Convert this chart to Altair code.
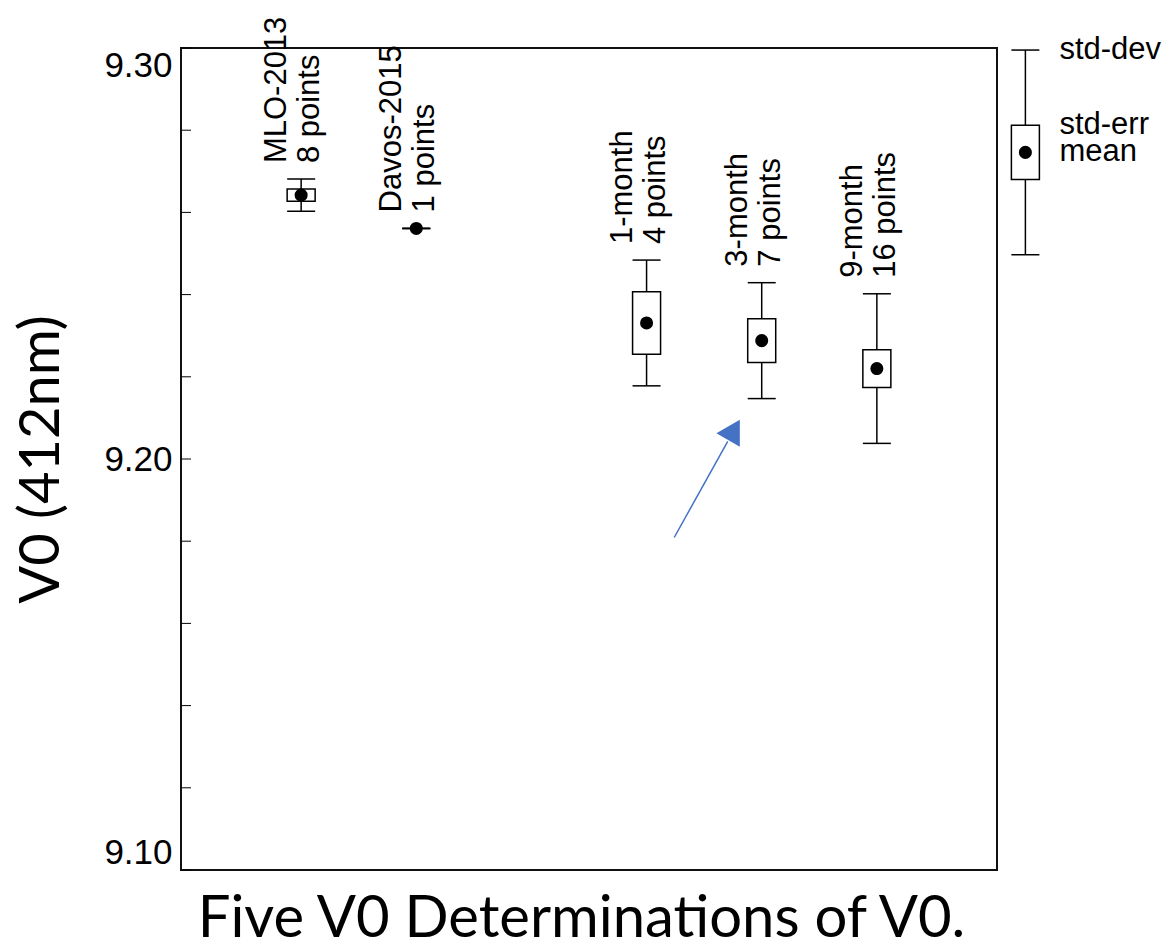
import altair as alt
import pandas as pd

# Five determinations of V0 at 412 nm: mean, standard deviation, standard error
groups = ["MLO-2013", "Davos-2015", "1-month", "3-month", "9-month"]
n_points = [8, 1, 4, 7, 16]
slots = [1, 2, 4, 5, 6]
means = [9.2642, 9.2561, 9.2331, 9.2288, 9.2220]
std_dev = [0.0039, 0.0, 0.0153, 0.0141, 0.0182]
std_err = [0.0015, 0.0, 0.0076, 0.0053, 0.0046]

# Key glyph drawn to the right of the frame
key_slot = 7.29
key_mean = 9.2746
key_dev = 0.0249
key_err = 0.0066
key_labels = ["std-dev", "std-err", "mean"]

# Axis ticks (every 0.02) and labelled values
y_ticks = [9.10, 9.12, 9.14, 9.16, 9.18, 9.20, 9.22, 9.24, 9.26, 9.28, 9.30]
y_labels = [9.10, 9.20, 9.30]

# Annotation arrow: tail, neck of the head, tip
arrow_x = [4.24, 4.705, 4.813]
arrow_y = [9.1809, 9.2043, 9.2099]
ARROW_BLUE = "#4472C4"

FONT = "Liberation Sans"
TITLE_FONT = "Lato"

stats = pd.DataFrame({
    "group": groups + ["key"],
    "slot": slots + [key_slot],
    "mean": means + [key_mean],
    "sd": std_dev + [key_dev],
    "se": std_err + [key_err],
})
stats["sd_lo"] = stats["mean"] - stats["sd"]
stats["sd_hi"] = stats["mean"] + stats["sd"]
stats["se_lo"] = stats["mean"] - stats["se"]
stats["se_hi"] = stats["mean"] + stats["se"]

labels = stats.iloc[: len(groups)].copy()
labels["text"] = [f"{g}\n{n} points" for g, n in zip(groups, n_points)]

key = stats.iloc[[-1]]
key_text = pd.DataFrame({
    "slot": [key_slot] * 3,
    "y": [float(key["sd_hi"].iloc[0]), float(key["se_hi"].iloc[0]), key_mean],
    "text": key_labels,
})

ticks_df = pd.DataFrame({"y": y_ticks})
arrow_line = pd.DataFrame({"x": [arrow_x[0]], "y": [arrow_y[0]],
                           "x2": [arrow_x[1]], "y2": [arrow_y[1]]})
arrow_head = pd.DataFrame({"x": [(arrow_x[1] + arrow_x[2]) / 2],
                           "y": [(arrow_y[1] + arrow_y[2]) / 2]})

x_scale = alt.Scale(domain=[0, 7], nice=False, zero=False)
y_scale = alt.Scale(domain=[9.10, 9.30], nice=False, zero=False)

x_axis = alt.Axis(labels=False, ticks=False, domain=False, grid=False,
                  title="Five V0 Determinations of V0.", titleFont=TITLE_FONT,
                  titleFontSize=58, titleFontWeight="normal", titleColor="black",
                  titlePadding=20, titleX=400, titleAlign="center")
y_axis = alt.Axis(values=y_labels, format=".2f", ticks=False, domain=False,
                  grid=False, labelFlush=True, labelFont=FONT, labelFontSize=35,
                  labelColor="black", labelPadding=9,
                  title="V0 (412nm)", titleFont=TITLE_FONT, titleFontSize=56,
                  titleFontWeight="normal", titleColor="black", titlePadding=33)


def X(field):
    return alt.X(field, type="quantitative", scale=x_scale, axis=x_axis)


def Y(field):
    return alt.Y(field, type="quantitative", scale=y_scale, axis=y_axis)


tick_marks = alt.Chart(ticks_df).mark_rule(color="black", strokeWidth=1).encode(
    y=Y("y"), x=alt.value(0), x2=alt.value(10)
)

whiskers = alt.Chart(stats).mark_rule(color="black", strokeWidth=1.5).encode(
    x=X("slot"), y=Y("sd_lo"), y2="sd_hi"
)
caps_hi = alt.Chart(stats).mark_tick(
    color="black", orient="horizontal", size=28, thickness=1.5, opacity=1
).encode(x=X("slot"), y=Y("sd_hi"))
caps_lo = alt.Chart(stats).mark_tick(
    color="black", orient="horizontal", size=28, thickness=1.5, opacity=1
).encode(x=X("slot"), y=Y("sd_lo"))
boxes = alt.Chart(stats).mark_bar(
    size=28, fill="white", stroke="black", strokeWidth=1.5
).encode(x=X("slot"), y=Y("se_lo"), y2="se_hi")
dots = alt.Chart(stats).mark_point(
    filled=True, color="black", size=170, opacity=1, shape="circle"
).encode(x=X("slot"), y=Y("mean"))

group_text = alt.Chart(labels).mark_text(
    angle=270, align="left", baseline="middle", lineBreak="\n",
    font=FONT, fontSize=31, lineHeight=33, dx=16, dy=-24, color="black"
).encode(x=X("slot"), y=Y("sd_hi"), text="text:N")

key_labels_chart = alt.Chart(key_text).mark_text(
    align="left", baseline="middle", font=FONT, fontSize=31, dx=34, color="black"
).encode(x=X("slot"), y=Y("y"), text="text:N")

arrow_shaft = alt.Chart(arrow_line).mark_rule(color=ARROW_BLUE, strokeWidth=1.5).encode(
    x=X("x"), y=Y("y"), x2="x2", y2="y2"
)
arrow_tip = alt.Chart(arrow_head).mark_point(
    shape="triangle-up", filled=True, color=ARROW_BLUE, size=729, angle=30, opacity=1
).encode(x=X("x"), y=Y("y"))

chart = alt.layer(
    tick_marks, whiskers, caps_hi, caps_lo, boxes, dots,
    group_text, key_labels_chart, arrow_shaft, arrow_tip
).properties(
    width=816, height=822,
    autosize=alt.AutoSizeParams(type="none"),
    padding={"left": 181, "top": 48, "right": 179, "bottom": 73},
    background="white",
).configure_view(stroke="#111111", strokeWidth=2)

chart.save("out.html", embed_options={"renderer": "svg", "actions": False})
